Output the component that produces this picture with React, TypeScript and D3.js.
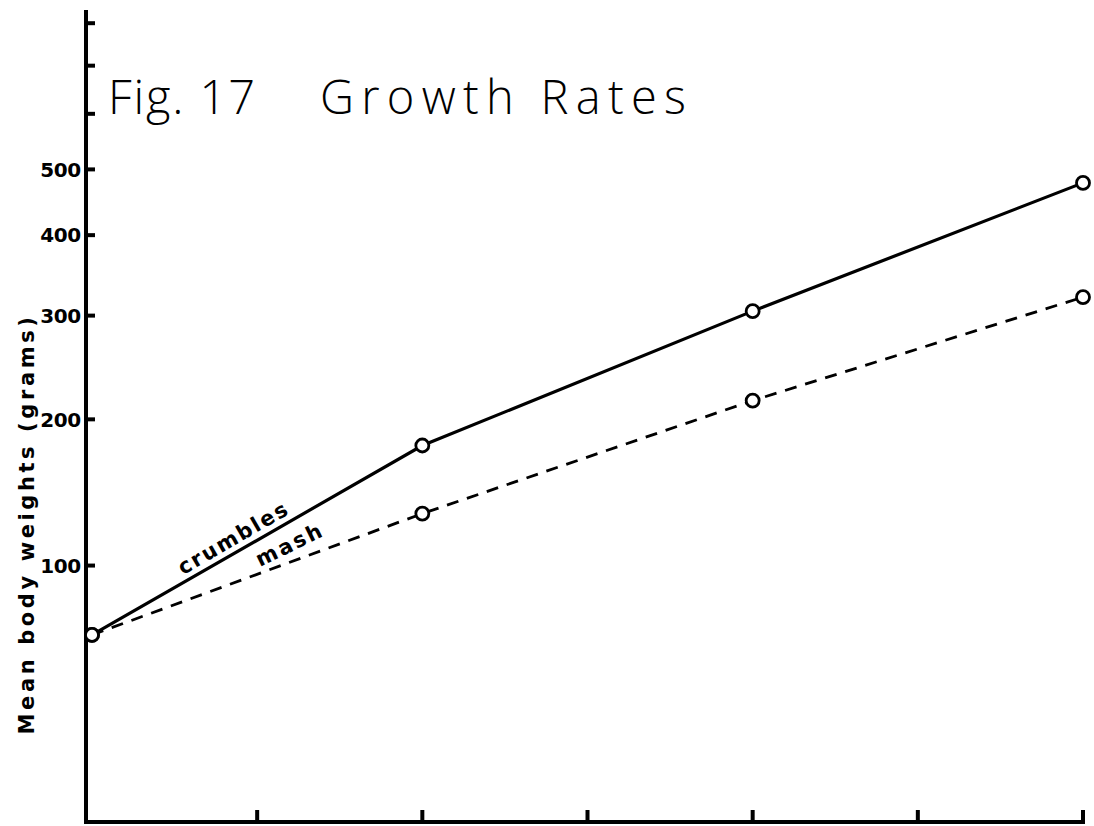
import React from "react";
import * as d3 from "d3";

// Time points (x positions, unlabeled in the original)
const timePoints = [0, 2, 4, 6];
// Mean body weights (grams)
const crumbles = [65, 179, 305, 478];
const mash = [65, 131, 216, 321];
// Axis ticks
const xTicks = [1, 2, 3, 4, 5, 6];
const yTicks = [100, 200, 300, 400, 500, 600, 700, 800];
const yLabeled = [100, 200, 300, 400, 500];

const W = 1094;
const H = 826;

export default function App() {
  const x = d3.scaleLinear().domain([0, 6]).range([92, 1083]);
  const y = d3.scaleSymlog().constant(100).domain([0, 800]).range([815.5, 23.2]);

  const line = d3
    .line<number>()
    .x((_, i) => x(timePoints[i]))
    .y((d) => y(d));

  const axisX = 86;
  const axisY = 822;

  const labelFont = "'DejaVu Sans', 'Liberation Sans', sans-serif";
  const titleFont = "'Open Sans', 'DejaVu Sans', sans-serif";

  return (
    <svg
      width={W}
      height={H}
      style={{ position: "absolute", left: 0, top: 0, background: "#fff" }}
    >
      <rect x={0} y={0} width={W} height={H} fill="#fff" />
      {/* axes */}
      <line x1={axisX} y1={10} x2={axisX} y2={axisY + 2} stroke="#000" strokeWidth={4} />
      <line x1={axisX - 2} y1={axisY} x2={1085} y2={axisY} stroke="#000" strokeWidth={4} />
      {/* y ticks */}
      {yTicks.map((t) => (
        <line
          key={"yt" + t}
          x1={axisX}
          x2={axisX + 9}
          y1={y(t)}
          y2={y(t)}
          stroke="#000"
          strokeWidth={4}
        />
      ))}
      {yLabeled.map((t) => (
        <text
          key={"yl" + t}
          x={axisX - 5}
          y={y(t)}
          dy="0.36em"
          textAnchor="end"
          fontFamily={labelFont}
          fontWeight="bold"
          fontSize={20}
          letterSpacing={-0.3}
          fill="#000"
        >
          {t}
        </text>
      ))}
      {/* x ticks */}
      {xTicks.map((t) => (
        <line
          key={"xt" + t}
          x1={x(t)}
          x2={x(t)}
          y1={axisY}
          y2={axisY - 12}
          stroke="#000"
          strokeWidth={4}
        />
      ))}
      {/* y axis title */}
      <text
        transform="translate(34,524) rotate(-90)"
        textAnchor="middle"
        fontFamily={labelFont}
        fontWeight="bold"
        fontSize={21}
        letterSpacing={3.6}
        fill="#000"
      >
        Mean body weights (grams)
      </text>
      {/* title */}
      <text
        x={108}
        y={114}
        fontFamily={titleFont}
        fontWeight={300}
        fontSize={47}
        fill="#000"
        textLength={147}
        lengthAdjust="spacing"
      >
        Fig. 17
      </text>
      <text
        x={320}
        y={114}
        fontFamily={titleFont}
        fontWeight={300}
        fontSize={47}
        fill="#000"
        textLength={366}
        lengthAdjust="spacing"
      >
        Growth Rates
      </text>
      {/* series */}
      <path d={line(mash) || ""} fill="none" stroke="#000" strokeWidth={2.8} strokeDasharray="12 9" />
      <path d={line(crumbles) || ""} fill="none" stroke="#000" strokeWidth={3.2} />
      {[crumbles, mash].map((s, si) =>
        s.map((v, i) => (
          <circle
            key={"c" + si + "-" + i}
            cx={x(timePoints[i])}
            cy={y(v)}
            r={6.5}
            fill="#fff"
            stroke="#000"
            strokeWidth={2.8}
          />
        ))
      )}
      {/* series labels */}
      <text
        transform="translate(237,544) rotate(-30)"
        textAnchor="middle"
        fontFamily={labelFont}
        fontWeight="bold"
        fontSize={21}
        letterSpacing={2}
        fill="#000"
      >
        crumbles
      </text>
      <text
        transform="translate(293,551) rotate(-26)"
        textAnchor="middle"
        fontFamily={labelFont}
        fontWeight="bold"
        fontSize={21}
        letterSpacing={2.5}
        fill="#000"
      >
        mash
      </text>
    </svg>
  );
}
